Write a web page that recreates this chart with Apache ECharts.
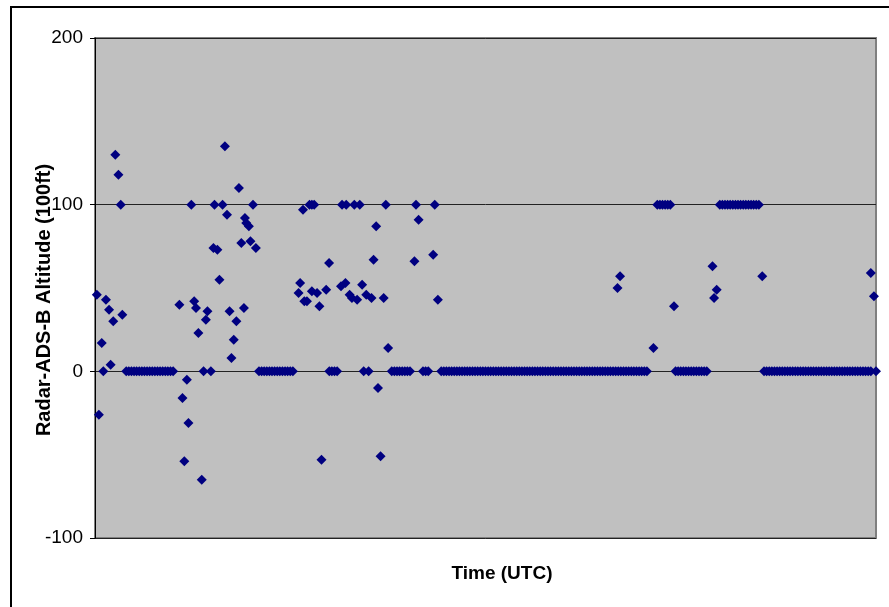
<!DOCTYPE html>
<html>
<head>
<meta charset="utf-8">
<script src="https://cdn.jsdelivr.net/npm/echarts@6/dist/echarts.min.js"></script>
<style>
html,body{margin:0;padding:0;background:#fff;}
#chart{width:889px;height:607px;}
</style>
</head>
<body>
<div id="chart"></div>
<script>
// Sample index (time order) where Radar-ADS-B altitude difference is 0
const zeroIdx = [3.2,
  12,13,14,15,16,17,18,19,20,21,22,23,24,25,26,27,28,29,30,
  41.7, 44.5,
  63,64,65,66,67,68,69,70,71,72,73,74,75,76,
  90,91,92,93,
  103.2, 105.1,
  114,115,116,117,118,119,120,121,
  126,127,128,
  133,134,135,136,137,138,139,140,141,142,143,144,145,146,147,148,149,150,
  151,152,153,154,155,156,157,158,159,160,161,162,163,164,165,166,167,168,169,170,
  171,172,173,174,175,176,177,178,179,180,181,182,183,184,185,186,187,188,189,190,
  191,192,193,194,195,196,197,198,199,200,201,202,203,204,205,206,207,208,209,210,
  211,212,
  223,224,225,226,227,228,229,230,231,232,233,234,235,
  257,258,259,260,261,262,263,264,265,266,267,268,269,270,271,272,273,274,275,276,
  277,278,279,280,281,282,283,284,285,286,287,288,289,290,291,292,293,294,295,296,
  297,298,
  300];
// Sample index where the difference is 100 (x100 ft)
const hundredIdx = [9.9, 37.0, 45.9, 49.0, 60.7, 82.4, 83.3, 84.2, 94.9, 96.5, 99.6, 101.7,
  111.7, 123.3, 130.5,
  216,217,218,219,220,221,
  240,241,242,243,244,245,246,247,248,249,250,251,252,253,254,255];
// Other samples: index and difference
const otherIdx = [0.7, 1.5, 2.6, 4.2, 5.4, 6.0, 7.0, 7.8, 9.0, 10.5,
  32.4, 33.6, 34.3, 35.3, 35.9, 38.1, 38.8, 39.7, 41.0, 42.6, 43.2,
  45.5, 47.0, 47.8, 49.9, 50.7, 51.7, 52.4, 53.3, 54.3, 55.3, 56.2, 57.2, 57.6, 58.1, 59.1, 59.7, 61.8,
  78.2, 78.8, 79.9, 80.4, 81.4, 83.3, 85.3, 86.2, 87.0, 88.8, 89.9,
  94.5, 96.2, 97.8, 98.7, 100.7, 102.6, 104.2, 106.2, 107.0, 108.0, 108.7, 109.7, 110.9, 112.6,
  122.7, 124.3, 129.9, 131.7,
  200.7, 201.7, 214.5, 222.4, 237.2, 237.8, 238.8, 256.3,
  298.0, 299.2];
const otherVal = [46, -26, 17, 43, 37, 4, 30, 130, 118, 34,
  40, -16, -54, -5, -31, 42, 38, 23, -65, 31, 36,
  74, 73, 55, 135, 94, 36, 8, 19, 30, 110, 77, 38, 92, 89, 87, 78, 74,
  47, 53, 97, 42, 42, 48, 47, 39, -53, 49, 65,
  51, 53, 46, 44, 43, 52, 46, 44, 67, 87, -10, -51, 44, 14,
  66, 91, 70, 43,
  50, 57, 14, 39, 63, 44, 49, 57,
  59, 45];
const yTicks = [-100, 0, 100, 200];

const points = [];
zeroIdx.forEach(t => points.push([t, 0]));
hundredIdx.forEach(t => points.push([t, 100]));
otherIdx.forEach((t, i) => points.push([t, otherVal[i]]));

const chart = echarts.init(document.getElementById('chart'), null, {renderer: 'canvas'});
chart.setOption({
  animation: false,
  backgroundColor: '#ffffff',
  grid: {
    left: 95, right: 13, top: 38, bottom: 69,
    containLabel: false, outerBoundsMode: 'none',
    show: true, backgroundColor: '#C0C0C0', borderColor: '#808080', borderWidth: 2
  },
  xAxis: {
    type: 'value', min: 0, max: 300,
    axisLine: {show: false}, axisTick: {show: false}, axisLabel: {show: false},
    splitLine: {show: false}
  },
  yAxis: {
    type: 'value', min: yTicks[0], max: yTicks[yTicks.length - 1], interval: 100,
    axisLine: {show: true, onZero: false, lineStyle: {color: '#000', width: 1}},
    axisTick: {show: true, length: 5, lineStyle: {color: '#000'}},
    axisLabel: {color: '#000', fontSize: 19, fontFamily: 'Liberation Sans, Arial, sans-serif', margin: 12},
    splitLine: {show: true, lineStyle: {color: '#222', width: 1}}
  },
  graphic: [
    {type: 'rect', shape: {x: 11, y: 7, width: 1000, height: 1000}, style: {fill: null, stroke: '#000', lineWidth: 2}, z: 100},
    {type: 'text', x: 502, y: 574, style: {text: 'Time (UTC)', fill: '#000', font: 'bold 19px "Liberation Sans", Arial, sans-serif', align: 'center', verticalAlign: 'middle'}},
    {type: 'text', x: 44, y: 300, rotation: Math.PI / 2, style: {text: 'Radar-ADS-B Altitude (100ft)', fill: '#000', font: 'bold 20px "Liberation Sans", Arial, sans-serif', align: 'center', verticalAlign: 'middle'}}
  ],
  series: [{
    type: 'scatter',
    symbol: 'diamond',
    symbolSize: 10,
    itemStyle: {color: '#000080', opacity: 1},
    data: points,
    clip: false
  }]
});
</script>
</body>
</html>
